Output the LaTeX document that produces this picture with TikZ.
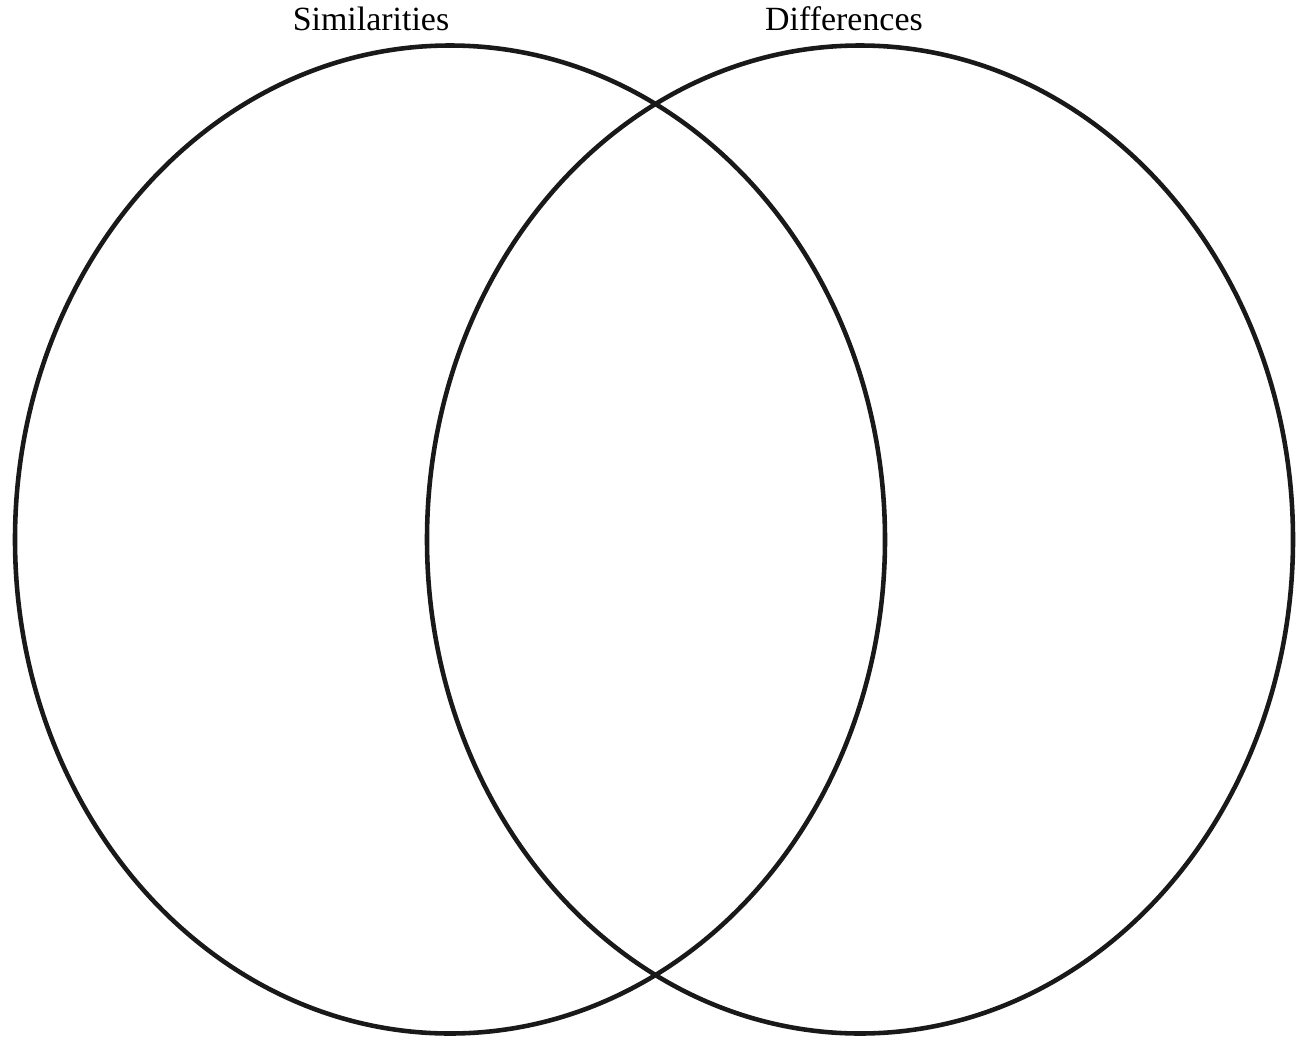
\documentclass[tikz,border=0pt]{standalone}
\usepackage{fontspec}
\setmainfont{Liberation Serif}
\usetikzlibrary{positioning}
\tikzset{
  setline/.style={draw=black!90,line width=2.6pt},
  setlabel/.style={anchor=base,inner sep=0pt,font=\fontsize{19.3}{22}\selectfont},
}

\begin{document}
\begin{tikzpicture}[x=0.02cm,y=-0.02cm]
\useasboundingbox (0,0) rectangle (1302,1038);
% the two sets
\coordinate (lc) at (450,539.5);
\coordinate (rc) at (860,539.5);
\draw[setline] (lc) ellipse [x radius=435,y radius=494];
\draw[setline] (rc) ellipse [x radius=433,y radius=494];
% headings
\node[setlabel] (sim) at (371,30) {Similarities};
\node[setlabel] (dif) at (844,30) {Differences};
\end{tikzpicture}
\end{document}
